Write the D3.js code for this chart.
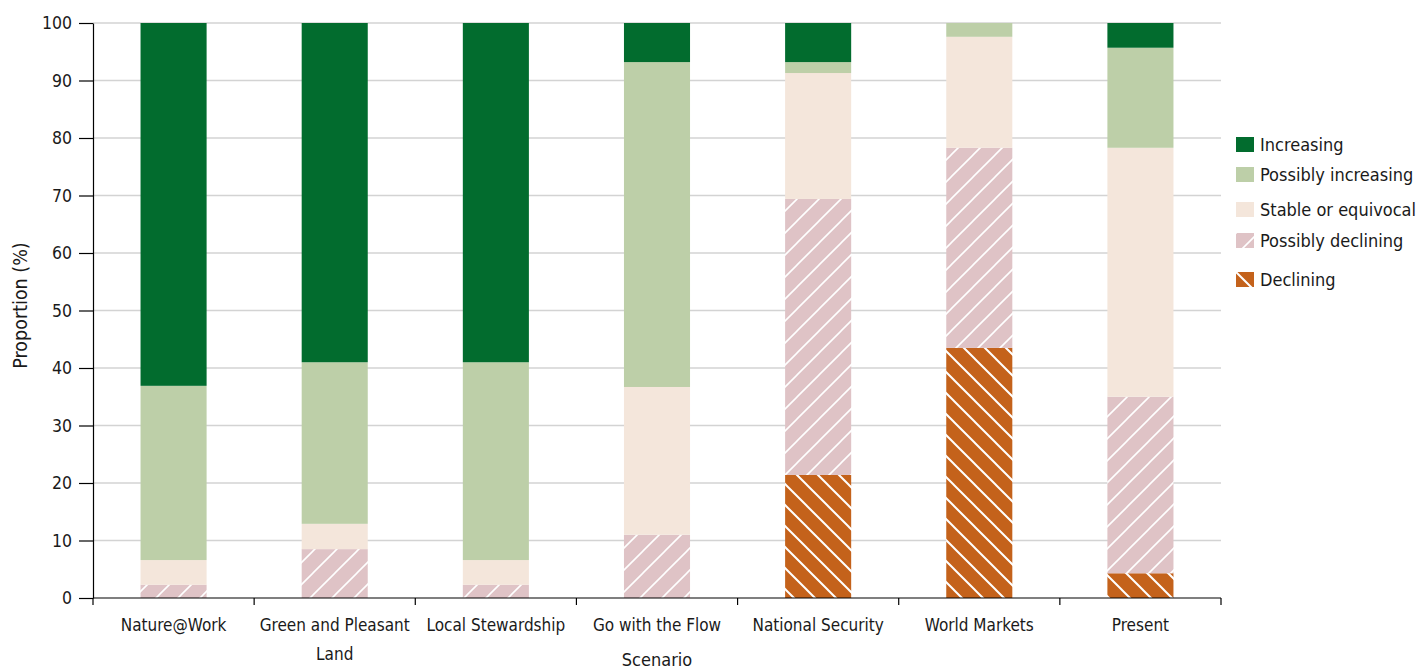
<!DOCTYPE html>
<html>
<head>
<meta charset="utf-8">
<script src="https://cdn.jsdelivr.net/npm/d3@7"></script>
<style>
  body { margin: 0; background: #fff; }
  text { font-family: "DejaVu Sans Condensed", "DejaVu Sans", sans-serif; font-stretch: condensed; fill: #1a1a1a; }
</style>
</head>
<body>
<svg></svg>
<script>
// scenarios along the x axis
const scenarios = ["Nature@Work", "Green and Pleasant Land", "Local Stewardship",
    "Go with the Flow", "National Security", "World Markets", "Present"];

// proportion (%) in each trend class, one value per scenario
const declining       = [0,    0,    0,    0,    21.4, 43.5, 4.3];
const possiblyDecl    = [2.3,  8.5,  2.3,  11.0, 48.0, 34.8, 30.7];
const stable          = [4.3,  4.4,  4.3,  25.7, 21.9, 19.3, 43.3];
const possiblyIncr    = [30.3, 28.1, 34.4, 56.5, 1.9,  2.4,  17.4];
const increasing      = [63.1, 59.0, 59.0, 6.8,  6.8,  0,    4.3];

const seriesNames = ["Declining", "Possibly declining", "Stable or equivocal", "Possibly increasing", "Increasing"];
const yTicks = [0, 10, 20, 30, 40, 50, 60, 70, 80, 90, 100];

const colors = {
    "Increasing": "#026c2e",
    "Possibly increasing": "#bdcfa8",
    "Stable or equivocal": "#f4e6db",
    "Possibly declining": "url(#hatchPD)",
    "Declining": "url(#hatchD)"
};

const rows = scenarios.map(function(s, i) {
    return {
        scenario: s,
        "Declining": declining[i],
        "Possibly declining": possiblyDecl[i],
        "Stable or equivocal": stable[i],
        "Possibly increasing": possiblyIncr[i],
        "Increasing": increasing[i]
    };
});

const svgWidth = 1422, svgHeight = 671;
const margin = { top: 23, right: 201, bottom: 73, left: 93 };
const width = svgWidth - margin.left - margin.right;
const height = svgHeight - margin.top - margin.bottom;

const svg = d3.select("svg")
    .attr("width", svgWidth)
    .attr("height", svgHeight);

// hatch patterns
const defs = svg.append("defs");
const pd = defs.append("pattern")
    .attr("id", "hatchPD")
    .attr("patternUnits", "userSpaceOnUse")
    .attr("width", 22).attr("height", 22);
pd.append("rect").attr("width", 22).attr("height", 22).attr("fill", "#dfc3c6");
pd.append("path").attr("d", "M-2,2 L2,-2 M0,22 L22,0 M20,24 L24,20")
    .attr("stroke", "#fff").attr("stroke-width", 1.6);

const dd = defs.append("pattern")
    .attr("id", "hatchD")
    .attr("patternUnits", "userSpaceOnUse")
    .attr("width", 21).attr("height", 21);
dd.append("rect").attr("width", 21).attr("height", 21).attr("fill", "#c4621b");
dd.append("path").attr("d", "M-2,19 L2,23 M0,0 L21,21 M19,-2 L23,2")
    .attr("stroke", "#fff").attr("stroke-width", 2);

const g = svg.append("g")
    .attr("transform", "translate(" + margin.left + "," + margin.top + ")");

const x = d3.scaleBand().domain(scenarios).range([0, width]).padding(0);
const y = d3.scaleLinear().domain([0, 100]).range([height, 0]);

// gridlines
g.append("g")
    .selectAll("line")
    .data(yTicks.filter(function(d) { return d > 0; }))
    .join("line")
    .attr("x1", 0).attr("x2", width)
    .attr("y1", function(d) { return y(d); })
    .attr("y2", function(d) { return y(d); })
    .attr("stroke", "#d3d3d3")
    .attr("stroke-width", 1.5);

// stacked bars
const stack = d3.stack().keys(seriesNames);
const layers = stack(rows);
const barW = x.bandwidth() * 0.41;

g.append("g")
    .selectAll("g")
    .data(layers)
    .join("g")
    .attr("fill", function(d) { return colors[d.key]; })
    .selectAll("rect")
    .data(function(d) { return d; })
    .join("rect")
    .attr("x", function(d) { return x(d.data.scenario) + (x.bandwidth() - barW) / 2; })
    .attr("width", barW)
    .attr("y", function(d) { return y(d[1]); })
    .attr("height", function(d) { return y(d[0]) - y(d[1]); });

// y axis
const yAxis = g.append("g")
    .call(d3.axisLeft(y).tickValues(yTicks).tickSize(14).tickSizeOuter(0).tickPadding(7));
yAxis.select(".domain").attr("stroke", "#000").attr("stroke-width", 1.2);
yAxis.selectAll(".tick line").attr("stroke", "#000").attr("stroke-width", 1.2);
yAxis.selectAll("text").style("font-size", "17.5px");

// x axis: baseline, boundary ticks and labels
g.append("line")
    .attr("x1", 0).attr("x2", width)
    .attr("y1", height).attr("y2", height)
    .attr("stroke", "#000").attr("stroke-width", 1.2);

const bounds = scenarios.map(function(s) { return x(s); }).concat([width]);
g.append("g")
    .selectAll("line")
    .data(bounds)
    .join("line")
    .attr("x1", function(d) { return d; })
    .attr("x2", function(d) { return d; })
    .attr("y1", height).attr("y2", height + 7)
    .attr("stroke", "#000").attr("stroke-width", 1.2);

const labelWrap = {
    "Green and Pleasant Land": ["Green and Pleasant", "Land"]
};
const xl = g.append("g")
    .selectAll("text")
    .data(scenarios)
    .join("text")
    .attr("text-anchor", "middle")
    .attr("transform", function(d) { return "translate(" + (x(d) + x.bandwidth() / 2) + "," + (height + 33) + ")"; })
    .style("font-size", "17px");
xl.each(function(d) {
    const lines = labelWrap[d] || [d];
    d3.select(this).selectAll("tspan")
        .data(lines)
        .join("tspan")
        .attr("x", 0)
        .attr("dy", function(l, i) { return i === 0 ? 0 : 29; })
        .text(function(l) { return l; });
});

// axis titles
g.append("text")
    .attr("text-anchor", "middle")
    .attr("x", width / 2)
    .attr("y", height + 68)
    .style("font-size", "18px")
    .text("Scenario");

g.append("text")
    .attr("transform", "translate(" + (-66) + "," + (height / 2 - 5) + ") rotate(-90)")
    .attr("text-anchor", "middle")
    .style("font-size", "19.5px")
    .text("Proportion (%)");

// legend
const legendItems = ["Increasing", "Possibly increasing", "Stable or equivocal", "Possibly declining", "Declining"];
const legendY = [137, 167, 202, 233, 272];
const legend = svg.append("g")
    .selectAll("g")
    .data(legendItems)
    .join("g")
    .attr("transform", function(d, i) { return "translate(1236," + legendY[i] + ")"; });
legend.append("rect")
    .attr("width", 18).attr("height", 15)
    .attr("fill", function(d) { return colors[d]; });
legend.append("text")
    .attr("x", 24).attr("y", 14)
    .style("font-size", "18px")
    .text(function(d) { return d; });
</script>
</body>
</html>
